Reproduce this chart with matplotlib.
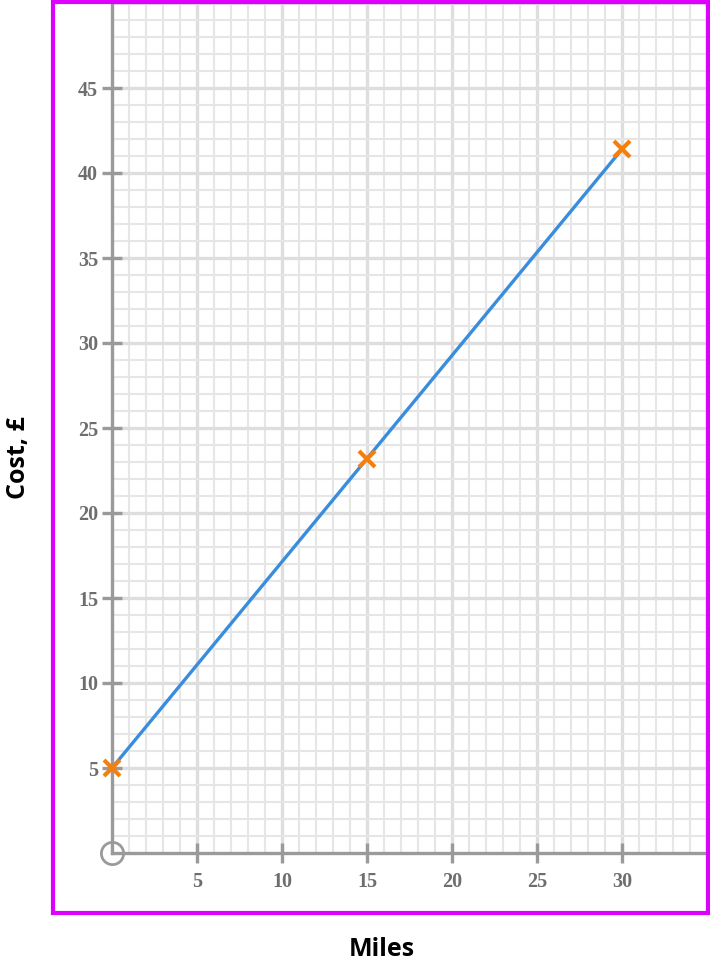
import matplotlib
matplotlib.use("Agg")
import matplotlib.pyplot as plt
from matplotlib.patches import Rectangle

miles = [0, 15, 30]
cost = [5, 23.2, 41.4]
x_ticks = [5, 10, 15, 20, 25, 30]
y_ticks = [5, 10, 15, 20, 25, 30, 35, 40, 45]
x_label = "Miles"
y_label = "Cost, £"

W, H = 710, 968
fig = plt.figure(figsize=(W / 100, H / 100), dpi=100)
L, R, T, B = 53, 708, 2, 913
ax = fig.add_axes([L / W, 1 - B / H, (R - L) / W, (B - T) / H])
ppu = 17.0
ox, oy = 112, 853
ax.set_xlim((L - ox) / ppu, (R - ox) / ppu)
ax.set_ylim((oy - B) / ppu, (oy - T) / ppu)

xmax = ax.get_xlim()[1]
ymax = ax.get_ylim()[1]

# grid
for gx in range(1, int(xmax) + 1):
    major = gx % 5 == 0
    ax.plot([gx, gx], [0, ymax], color="#dedede" if major else "#e6e6e6",
            lw=2.4 if major else 1.5, zorder=1, solid_capstyle="butt")
for gy in range(1, int(ymax) + 1):
    major = gy % 5 == 0
    ax.plot([0, xmax], [gy, gy], color="#dedede" if major else "#e6e6e6",
            lw=2.4 if major else 1.5, zorder=1, solid_capstyle="butt")

# axes
for s in ["top", "right"]:
    ax.spines[s].set_visible(False)
ax.spines["left"].set_position(("data", 0))
ax.spines["bottom"].set_position(("data", 0))
ax.spines["left"].set_bounds(0, ymax)
ax.spines["bottom"].set_bounds(0, xmax)
for s in ["left", "bottom"]:
    ax.spines[s].set_color("#9a9a9a")
    ax.spines[s].set_linewidth(2.4)
    ax.spines[s].set_zorder(3)

ax.set_xticks(x_ticks)
ax.set_yticks(y_ticks)
ax.set_xticklabels([str(v) for v in x_ticks])
ax.set_yticklabels([str(v) for v in y_ticks])
ax.tick_params(direction="inout", length=14, width=2.4, color="#9a9a9a",
               labelcolor="#6e6e6e")
ax.tick_params(axis="x", pad=7)
ax.tick_params(axis="y", pad=3)
for lab in ax.get_xticklabels() + ax.get_yticklabels():
    lab.set_fontfamily("Liberation Serif")
    lab.set_fontweight("bold")
    lab.set_fontsize(14.5)

# origin circle
ax.plot([0], [0], marker="o", ms=16, mfc="none", mec="#9a9a9a", mew=2,
        zorder=4, clip_on=False)

# data line
ax.plot(miles, cost, color="#3a8ddd", lw=2.4, zorder=5)
ax.plot(miles, cost, ls="none", marker="x", ms=12, mew=3, color="#f57f0a",
        zorder=6, clip_on=False)

ax.set_facecolor("white")

# magenta frame
fig.patches.append(Rectangle((L / W, 1 - B / H), (R - L) / W, (B - T) / H,
                             transform=fig.transFigure, fill=False,
                             edgecolor="#dd00ff", lw=3, zorder=10))

fig.text(382 / W, 1 - 950 / H, x_label, ha="center", va="center",
         fontsize=18, fontweight="bold", family="Open Sans", color="black")
fig.text(18 / W, 1 - 458 / H, y_label, ha="center", va="center",
         rotation=90, fontsize=18, fontweight="bold", family="Open Sans",
         color="black")

fig.savefig("out.png", dpi=100)
